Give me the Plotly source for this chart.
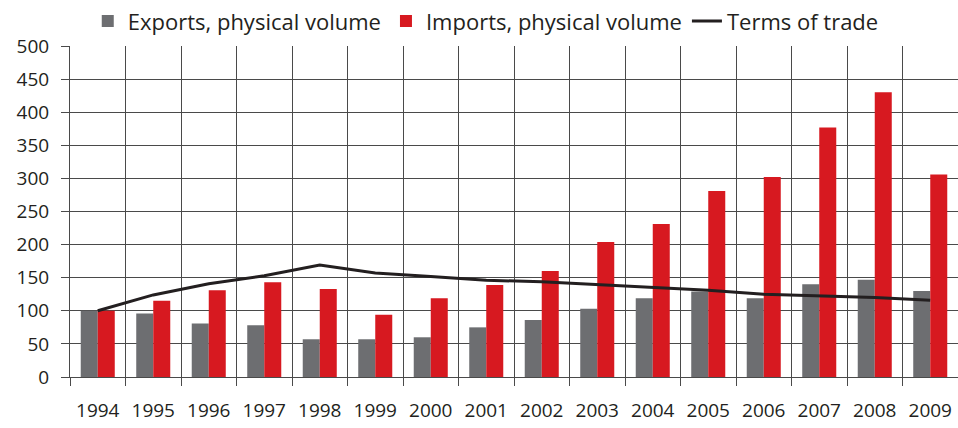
import plotly.graph_objects as go

years = ["1994", "1995", "1996", "1997", "1998", "1999", "2000", "2001",
         "2002", "2003", "2004", "2005", "2006", "2007", "2008", "2009"]
exports = [100, 96, 81, 78, 57, 57, 60, 75, 86, 103, 119, 129, 119, 140, 147, 130]
imports = [100, 115, 131, 143, 133, 94, 119, 139, 160, 204, 231, 281, 302, 377, 430, 306]
terms = [100, 124, 141, 153, 169, 157, 152, 146, 144, 140, 136, 131, 125, 123, 120, 116]

font_family = "Open Sans, Lato, sans-serif"

fig = go.Figure()
fig.add_trace(go.Bar(x=years, y=exports, name="Exports, physical volume",
                     marker=dict(color="#6d6e71", line=dict(width=0))))
fig.add_trace(go.Bar(x=years, y=imports, name="Imports, physical volume",
                     marker=dict(color="#d71920", line=dict(width=0))))
fig.add_trace(go.Scatter(x=years, y=terms, name="Terms of trade", mode="lines",
                         line=dict(color="#231f20", width=3)))

fig.update_layout(
    width=958, height=428,
    margin=dict(l=70, r=0, t=46, b=51, autoexpand=False),
    paper_bgcolor="white", plot_bgcolor="white",
    barmode="group", bargap=0.387, bargroupgap=0,
    font=dict(family=font_family, size=19, color="#231f20"),
    showlegend=True,
    legend=dict(orientation="h", x=0.02, xanchor="left", y=1.075, yanchor="middle",
                font=dict(size=22), itemwidth=30, tracegroupgap=0,
                bgcolor="rgba(0,0,0,0)"),
)
fig.update_xaxes(
    type="category", tickson="boundaries", automargin=False,
    showgrid=True, gridcolor="#4a4a4a", gridwidth=1,
    showline=True, linecolor="#4a4a4a", linewidth=1,
    ticks="outside", ticklen=8, tickcolor="#4a4a4a",
    ticklabelstandoff=16, tickfont=dict(size=19),
)
fig.update_yaxes(
    range=[0, 500], dtick=50, automargin=False,
    showgrid=True, gridcolor="#4a4a4a", gridwidth=1,
    showline=True, linecolor="#4a4a4a", linewidth=1,
    ticks="outside", ticklen=8, tickcolor="#4a4a4a",
    ticklabelstandoff=8, tickfont=dict(size=19),
    zeroline=False,
)

# drop the default page margin so the chart sits at the window corner
fig.write_html("out.html", config={"displayModeBar": False},
               post_script="document.body.style.margin='0';")
